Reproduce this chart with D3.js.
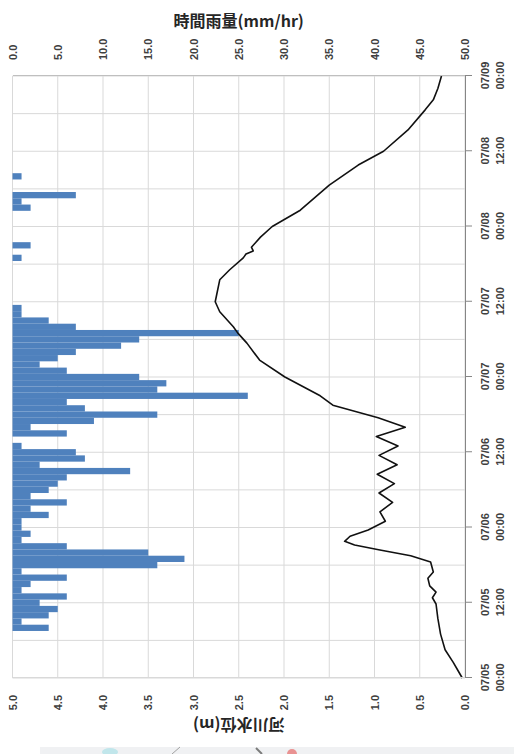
<!DOCTYPE html>
<html><head><meta charset="utf-8">
<script src="https://cdn.jsdelivr.net/npm/d3@7"></script>
<style>body{margin:0;background:#fff}svg{display:block}</style>
</head><body>
<script>
// Hourly rainfall (mm/hr), first value at 07/05 08:00
const rainStartHour = 8;
const rainValues = [
  4, 1, 4, 5, 3, 6, 1, 2, 6, 1,
  16, 19, 15, 6, 1, 2, 1, 1, 4, 2,
  6, 2, 4, 5, 6, 13, 3, 8, 7, 1,
  0, 6, 2, 9, 16, 8, 6, 26, 16, 17,
  14, 6, 3, 5, 7, 12, 14, 25, 7, 4,
  1, 1, 0, 0, 0, 0, 0, 0, 0, 1,
  0, 2, 0, 0, 0, 0, 0, 2, 1, 7,
  0, 0, 1
];
// River water level (m), hours after 07/05 00:00
const levelHours = [0, 1, 2.5, 4.5, 7, 9.5, 11.8, 12.8, 13.7, 14.7, 15.9, 16.9, 18.5, 19.5, 20.4, 21.2, 21.8, 22.6, 23.6, 25,
  26.5, 28, 29.5, 31, 32.5, 34, 35.5, 37, 38.5, 40, 41.5, 43.5, 45, 48, 50.7, 53.4, 55, 56, 58.4, 60,
  61.4, 63.5, 65.1, 67, 67.6, 68.1, 68.7, 70.3, 72, 74.6, 78.6, 81.8, 84, 87.4, 90.6, 92.2, 94, 96];
const levelValues = [0.03, 0.07, 0.13, 0.22, 0.27, 0.30, 0.32, 0.36, 0.32, 0.39, 0.41, 0.35, 0.38, 0.6, 0.94, 1.22, 1.33, 1.27, 1.07, 0.88,
  0.94, 0.8, 0.95, 0.78, 0.97, 0.75, 0.95, 0.74, 0.98, 0.66, 0.96, 1.46, 1.6, 1.99, 2.27, 2.41, 2.51, 2.56, 2.71, 2.76,
  2.74, 2.71, 2.6, 2.45, 2.42, 2.34, 2.36, 2.26, 2.13, 1.82, 1.5, 1.18, 0.9, 0.63, 0.44, 0.35, 0.3, 0.26];

const levelTicks = [0, 0.5, 1, 1.5, 2, 2.5, 3, 3.5, 4, 4.5, 5];
const rainTicks = [0, 5, 10, 15, 20, 25, 30, 35, 40, 45, 50];
const timeTickHours = [0, 12, 24, 36, 48, 60, 72, 84, 96];
const gridHours = d3.range(0, 97, 6);

const base = new Date(2017, 6, 5, 0, 0);
const hr = h => new Date(base.getTime() + h * 3600e3);

const svg = d3.select("body").append("svg").attr("width", 514).attr("height", 754);
svg.append("rect").attr("width", 514).attr("height", 754).attr("fill", "#fff");

const plotLeft = 12.5, plotRight = 465, plotTop = 76, plotBottom = 678;
const W = plotBottom - plotTop;   // time extent
const H = plotRight - plotLeft;   // value extent

// The chart is laid out with time running along the page vertically
const g = svg.append("g").attr("transform", `translate(${plotLeft},${plotBottom}) rotate(-90)`);

const x = d3.scaleTime().domain([hr(0), hr(96)]).range([0, W]);
const yL = d3.scaleLinear().domain([0, 5]).range([H, 0]);
const yR = d3.scaleLinear().domain([0, 50]).range([0, H]);

const gridColor = "#d9d9d9";
const textColor = "#404040";
const font = "'Liberation Sans', Arial, sans-serif";

// gridlines
g.append("g").selectAll("line").data(levelTicks).join("line")
  .attr("x1", 0).attr("x2", W).attr("y1", d => yL(d)).attr("y2", d => yL(d))
  .attr("stroke", gridColor).attr("stroke-width", 1);
g.append("g").selectAll("line").data(gridHours).join("line")
  .attr("x1", d => x(hr(d))).attr("x2", d => x(hr(d))).attr("y1", 0).attr("y2", H)
  .attr("stroke", gridColor).attr("stroke-width", 1);

// rainfall bars hanging from the rain axis
g.append("g").selectAll("rect").data(rainValues.map((v, i) => ({h: rainStartHour + i, v})).filter(d => d.v > 0))
  .join("rect")
  .attr("x", d => x(hr(d.h - 0.5)))
  .attr("width", d => x(hr(d.h + 0.5)) - x(hr(d.h - 0.5)))
  .attr("y", 0)
  .attr("height", d => yR(d.v))
  .attr("fill", "#4f81bd");

// water level line
const line = d3.line().x((d, i) => x(hr(levelHours[i]))).y(d => yL(d));
g.append("path").datum(levelValues).attr("d", line)
  .attr("fill", "none").attr("stroke", "#111").attr("stroke-width", 1.6).attr("stroke-linejoin", "round");

function styleAxis(sel, domainColor) {
  sel.selectAll("text").attr("fill", textColor).attr("font-family", font)
    .attr("font-size", 11).attr("font-weight", "bold");
  sel.select(".domain").attr("stroke", domainColor);
}

// level axis
const axL = g.append("g").call(d3.axisLeft(yL).tickValues(levelTicks).tickFormat(d3.format(".1f")).tickSize(0).tickPadding(17));
styleAxis(axL, gridColor);

// rain axis
const axR = g.append("g").attr("transform", `translate(${W},0)`)
  .call(d3.axisRight(yR).tickValues(rainTicks).tickFormat(d3.format(".1f")).tickSize(0).tickPadding(16));
styleAxis(axR, "#bfbfbf");

// time axis
const fmtD = d3.timeFormat("%m/%d"), fmtT = d3.timeFormat("%H:%M");
const axB = g.append("g").attr("transform", `translate(0,${H})`)
  .call(d3.axisBottom(x).tickValues(timeTickHours.map(hr)).tickSize(7).tickSizeOuter(0));
axB.selectAll(".tick line").attr("stroke", "#868686");
axB.selectAll(".tick text").each(function(d) {
  const t = d3.select(this).attr("y", null).attr("dy", null).text(null);
  t.append("tspan").attr("x", 0).attr("y", 24).text(fmtD(d));
  t.append("tspan").attr("x", 0).attr("y", 39).text(fmtT(d));
});
styleAxis(axB, "#868686");

// axis titles
svg.append("text").attr("x", (plotLeft + plotRight) / 2).attr("y", 27)
  .attr("text-anchor", "middle").attr("font-family", "'Noto Sans CJK JP', sans-serif")
  .attr("font-size", 16).attr("font-weight", "bold").attr("fill", "#262626")
  .text("時間雨量(mm/hr)");
svg.append("text")
  .attr("transform", `translate(${(plotLeft + plotRight) / 2},725) rotate(180)`)
  .attr("text-anchor", "middle").attr("dy", "0.35em").attr("font-family", "'Noto Sans CJK JP', sans-serif")
  .attr("font-size", 16).attr("font-weight", "bold").attr("fill", "#262626")
  .text("河川水位(m)");

// faint strip along the bottom edge of the page
const strip = svg.append("g").attr("opacity", 0.55);
strip.append("rect").attr("x", 40).attr("y", 747).attr("width", 474).attr("height", 7).attr("fill", "#e4e7ea");
strip.append("ellipse").attr("cx", 110).attr("cy", 752).attr("rx", 8).attr("ry", 4).attr("fill", "#8fd3dc");
strip.append("line").attr("x1", 172).attr("y1", 754).attr("x2", 180).attr("y2", 747).attr("stroke", "#555").attr("stroke-width", 1);
strip.append("line").attr("x1", 256).attr("y1", 748).attr("x2", 262).attr("y2", 754).attr("stroke", "#111").attr("stroke-width", 2);
strip.append("circle").attr("cx", 292).attr("cy", 754).attr("r", 5).attr("fill", "#d83a3a");
</script>
</body></html>
